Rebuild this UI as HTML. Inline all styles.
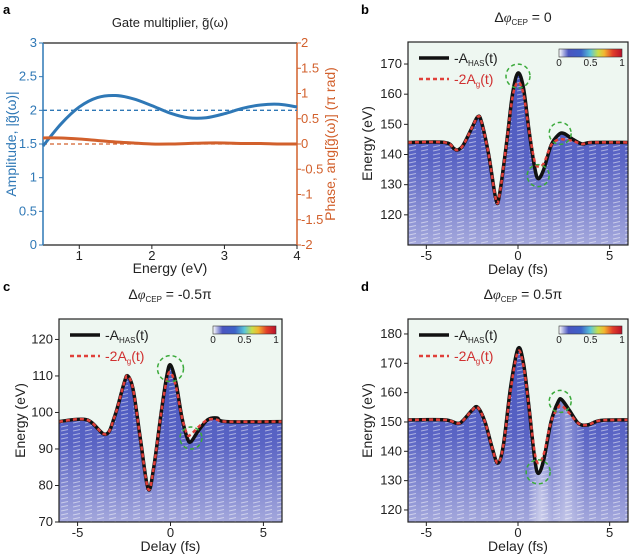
<!DOCTYPE html>
<html><head><meta charset="utf-8"><style>
body{margin:0;background:#fff;}
svg{display:block;font-family:"Liberation Sans",sans-serif;}
</style></head><body>
<svg id="fig" width="632" height="560" viewBox="0 0 632 560" xmlns="http://www.w3.org/2000/svg">
<defs>
<linearGradient id="specgrad" x1="0" y1="0" x2="0" y2="1">
<stop offset="0" stop-color="#4353be"/><stop offset="0.5" stop-color="#5a64c4"/><stop offset="1" stop-color="#a4a8dc"/>
</linearGradient>
<linearGradient id="specgradD" x1="0" y1="0" x2="1" y2="0">
<stop offset="0" stop-color="#ffffff" stop-opacity="0"/><stop offset="0.55" stop-color="#ffffff" stop-opacity="0"/><stop offset="0.6" stop-color="#ffffff" stop-opacity="0.45"/><stop offset="0.66" stop-color="#ffffff" stop-opacity="0.1"/><stop offset="0.72" stop-color="#ffffff" stop-opacity="0.35"/><stop offset="0.8" stop-color="#ffffff" stop-opacity="0"/>
</linearGradient>
<pattern id="streaks" width="12" height="4" patternUnits="userSpaceOnUse">
<line x1="1" y1="3" x2="8" y2="1.5" stroke="#ffffff" stroke-opacity="0.5" stroke-width="1"/>
</pattern>
<linearGradient id="cbar" x1="0" x2="1">
<stop offset="0" stop-color="#ffffff"/><stop offset="0.15" stop-color="#4a55c0"/><stop offset="0.35" stop-color="#3c62c8"/><stop offset="0.5" stop-color="#5bc6d8"/><stop offset="0.62" stop-color="#c8e04a"/><stop offset="0.72" stop-color="#f3b530"/><stop offset="0.85" stop-color="#e2402a"/><stop offset="1" stop-color="#b8102a"/>
</linearGradient>
</defs>
</svg>
<script>
// ---------- Panel a data ----------
const aEnergy = [0.5,0.75,1,1.25,1.5,1.75,2,2.25,2.5,2.75,3,3.25,3.5,3.75,4];
const aAmplitude = [1.47,1.8,2.05,2.19,2.22,2.17,2.07,1.96,1.89,1.89,1.95,2.03,2.08,2.09,2.05];
const aPhase = [0.12,0.12,0.1,0.07,0.04,0.02,0.0,0.0,0.01,0.02,0.02,0.01,0.01,0.0,0.0];
const aLeftTicks = [0,0.5,1,1.5,2,2.5,3];
const aRightTicks = [-2,-1.5,-1,-0.5,0,0.5,1,1.5,2];
const aXTicks = [1,2,3,4];

// ---------- Panels b,c,d data ----------
const delayTicks = [-5,0,5];
const bDelay = [-6,-4,-3.5,-3.3,-3,-2.5,-2.2,-2,-1.6,-1.2,-1,-0.6,-0.3,0,0.3,0.6,0.9,1.1,1.4,1.8,2.2,2.5,3,3.5,4,6];
const bHAS =   [144,144,142,141.5,143,149,152.5,151,140,125,127,145,160,167,162,148,136,132,135,143,146.5,147,145,143.5,144,144];
const bGate =  [144,144,142,141.5,143,149,152.5,151,140,125,127,145,159,164,160,148,138,136,137,143,145,145,144.5,143.5,144,144];
const bTicks = [120,130,140,150,160,170];
const cDelay = [-6,-4.5,-3.5,-3,-2.5,-2.3,-2,-1.6,-1.2,-0.9,-0.5,-0.2,0,0.3,0.6,0.9,1.1,1.5,2,2.5,3,6];
const cHAS =   [97.5,98,94,99,108,110,106,92,79,85,100,110,113,108,99,93,92,95,98,98.5,97.5,97.5];
const cGate =  [97.5,98,94,99,108,110,106,92,79,85,100,109,111,107,99,94,94,96,98,98,97.5,97.5];
const cTicks = [70,80,90,100,110,120];
const dDelay = [-6,-4,-3.3,-3,-2.5,-2.2,-1.8,-1.4,-1.1,-0.8,-0.4,0,0.3,0.6,0.9,1.1,1.4,1.8,2.2,2.4,2.8,3.3,3.8,4.5,6];
const dHAS =   [150.7,150.7,149.5,150.5,154,155,150,141,136,142,162,175,170,155,138,132.5,137,150,157,157.5,154,149.5,149,150.5,150.7];
const dGate =  [150.7,150.7,149.5,150.5,154,155,150,141,136,142,161,174,169,155,140,136,139,150,155,155.5,153,149.5,149,150.5,150.7];
const dTicks = [120,130,140,150,160,170,180];

const NS = "http://www.w3.org/2000/svg";
const svg = document.getElementById('fig');
function mk(tag, attrs, parent){const e=document.createElementNS(NS,tag);for(const k in attrs)e.setAttribute(k,attrs[k]);(parent||svg).appendChild(e);return e;}
function txt(s, attrs, parent){const e=mk('text',attrs,parent);e.textContent=s;return e;}
function smooth(pts){
  let d='M'+pts[0][0].toFixed(2)+','+pts[0][1].toFixed(2);
  for(let i=0;i<pts.length-1;i++){
    const p0=pts[Math.max(0,i-1)],p1=pts[i],p2=pts[i+1],p3=pts[Math.min(pts.length-1,i+2)];
    const c1=[p1[0]+(p2[0]-p0[0])/6,p1[1]+(p2[1]-p0[1])/6];
    const c2=[p2[0]-(p3[0]-p1[0])/6,p2[1]-(p3[1]-p1[1])/6];
    d+=' C'+c1[0].toFixed(2)+','+c1[1].toFixed(2)+' '+c2[0].toFixed(2)+','+c2[1].toFixed(2)+' '+p2[0].toFixed(2)+','+p2[1].toFixed(2);
  }
  return d;
}

// ---------- Panel a ----------
(function(){
  const L=43,R=297,T=43,B=245;
  const xS=v=>L+(v-0.5)/3.5*(R-L);
  const yL=v=>B-v/3*(B-T);
  const yR=v=>B-(v+2)/4*(B-T);
  const blue='#2f78b6', orange='#d2602c';
  const g=mk('g',{});
  
  
  const lt=txt('a',{x:3,y:14,'font-size':13,'font-weight':'bold'},g);
  
  const ti=txt('Gate multiplier, g̃(ω)',{x:170,y:27,'font-size':13,'text-anchor':'middle',fill:'#222'},g);
  
  mk('line',{x1:L,y1:T,x2:R,y2:T,stroke:'#222','stroke-width':1.2},g);
  mk('line',{x1:L,y1:B,x2:R,y2:B,stroke:'#222','stroke-width':1.2},g);
  mk('line',{x1:L,y1:T,x2:L,y2:B,stroke:blue,'stroke-width':1.5},g);
  mk('line',{x1:R,y1:T,x2:R,y2:B,stroke:orange,'stroke-width':1.5},g);
  aLeftTicks.forEach(v=>{const y=yL(v);mk('line',{x1:L-4,y1:y,x2:L,y2:y,stroke:blue},g);
    const t=txt(String(v),{x:L-6,y:y+4,'font-size':13,'text-anchor':'end',fill:blue},g);
    });
  aRightTicks.forEach(v=>{const y=yR(v);mk('line',{x1:R,y1:y,x2:R+4,y2:y,stroke:orange},g);
    const t=txt(String(v),{x:R+4,y:y+4,'font-size':13,fill:orange},g);
    });
  aXTicks.forEach(v=>{const x=xS(v);mk('line',{x1:x,y1:B,x2:x,y2:B+4,stroke:'#222'},g);
    const t=txt(String(v),{x:x,y:B+15,'font-size':13,'text-anchor':'middle',fill:'#222'},g);
    });
  const xl=txt('Energy (eV)',{x:170,y:273,'font-size':14,'text-anchor':'middle',fill:'#222'},g);
  
  const yl=txt('Amplitude, |g̃(ω)|',{x:0,y:0,'font-size':14,'text-anchor':'middle',fill:blue,transform:'translate(16,144) rotate(-90)'},g);
  
  const yr=txt('Phase, ang[g̃(ω)] (π rad)',{x:0,y:0,'font-size':14,'text-anchor':'middle',fill:orange,transform:'translate(335,144) rotate(-90)'},g);
  
  const d1=mk('line',{x1:L,y1:yL(2),x2:R,y2:yL(2),stroke:blue,'stroke-width':1.3,'stroke-dasharray':'4,3'},g);
  
  const d2=mk('line',{x1:L,y1:yR(0),x2:R,y2:yR(0),stroke:orange,'stroke-width':1.3,'stroke-dasharray':'4,3'},g);
  
  const pa=mk('path',{d:smooth(aEnergy.map((e,i)=>[xS(e),yL(aAmplitude[i])])),fill:'none',stroke:blue,'stroke-width':3},g);
  
  const pp=mk('path',{d:smooth(aEnergy.map((e,i)=>[xS(e),yR(aPhase[i])])),fill:'none',stroke:orange,'stroke-width':3},g);
  
})();

// ---------- Spectrogram panels ----------
function spectro(cfg){
  const {id,L,R,T,B,ymin,ymax,delay,has,gate,ticks,letter,lx,title,tx,circles,ylx,band}=cfg;
  const xS=v=>L+(v+6)/12*(R-L);
  const yS=v=>B-(v-ymin)/(ymax-ymin)*(B-T);
  const g=mk('g',{});
  
  
  const lt=txt(letter,{x:lx,y:T-28,'font-size':13,'font-weight':'bold'},g);
  
  const tt=mk('text',{x:tx,y:T-20,'font-size':14,'text-anchor':'middle',fill:'#222'},g);
  tt.innerHTML='Δ<tspan font-family="Liberation Serif" font-style="italic">φ</tspan><tspan font-size="8" dy="3">CEP</tspan><tspan dy="-3"> = '+title+'</tspan>';
  
  const cid='clip-'+id;
  const cp=mk('clipPath',{id:cid},g);
  mk('rect',{x:L,y:T,width:R-L,height:B-T},cp);
  const bg=mk('rect',{x:L,y:T,width:R-L,height:B-T,fill:'#eef7f1'},g);
  
  const pts=delay.map((t,i)=>[xS(t),yS(has[i])]);
  const area=smooth(pts)+' L'+R+','+B+' L'+L+','+B+' Z';
  const sg=mk('g',{'clip-path':'url(#'+cid+')'},g);
  const sp=mk('path',{d:area,fill:'url(#specgrad)'},sg);
  
  mk('path',{d:area,fill:'url(#streaks)'},sg);
  if(band) mk('path',{d:area,fill:'url(#specgradD)'},sg);
  const hl=mk('path',{d:smooth(pts),fill:'none',stroke:'#111','stroke-width':3.5},sg);
  
  const gl=mk('path',{d:smooth(delay.map((t,i)=>[xS(t),yS(gate[i])])),fill:'none',stroke:'#e0403a','stroke-width':2.5,'stroke-dasharray':'4,3'},sg);
  
  circles.forEach(c=>{const ci=mk('circle',{cx:xS(c[0]),cy:yS(c[1]),r:c[2],fill:'none',stroke:'#3aaa3a','stroke-width':1.5,'stroke-dasharray':'4,3'},sg);
    });
  mk('rect',{x:L,y:T,width:R-L,height:B-T,fill:'none',stroke:'#222','stroke-width':1.2},g);
  ticks.forEach(v=>{const y=yS(v);mk('line',{x1:L-4,y1:y,x2:L,y2:y,stroke:'#222'},g);
    const t=txt(String(v),{x:L-6,y:y+4,'font-size':13,'text-anchor':'end',fill:'#222'},g);
    });
  delayTicks.forEach(v=>{const x=xS(v);mk('line',{x1:x,y1:B,x2:x,y2:B+4,stroke:'#222'},g);
    const t=txt(String(v),{x:x,y:B+15,'font-size':13,'text-anchor':'middle',fill:'#222'},g);
    });
  const xl=txt('Delay (fs)',{x:(L+R)/2,y:B+29,'font-size':14,'text-anchor':'middle',fill:'#222'},g);
  
  const yl=txt('Energy (eV)',{x:0,y:0,'font-size':14,'text-anchor':'middle',fill:'#222',transform:'translate('+ylx+','+((T+B)/2)+') rotate(-90)'},g);
  
  // legend
  const lg=mk('g',{},g);
  
  mk('line',{x1:L+11,y1:T+16,x2:L+41,y2:T+16,stroke:'#111','stroke-width':3.5},lg);
  const l1=mk('text',{x:L+46,y:T+21,'font-size':14,fill:'#222'},lg);
  l1.innerHTML='-A<tspan font-size="8" dy="3">HAS</tspan><tspan dy="-3">(t)</tspan>';
  
  mk('line',{x1:L+11,y1:T+37,x2:L+41,y2:T+37,stroke:'#e0403a','stroke-width':2.5,'stroke-dasharray':'4,3'},lg);
  const l2=mk('text',{x:L+46,y:T+42,'font-size':14,fill:'#d03030'},lg);
  l2.innerHTML='-2A<tspan font-size="8" dy="3">g</tspan><tspan dy="-3">(t)</tspan>';
  
  // colorbar
  const cx=R-69, cy=T+7;
  const cb=mk('rect',{x:cx,y:cy,width:63,height:8,fill:'url(#cbar)',stroke:'#333','stroke-width':0.6},g);
  
  [['0',0],['0.5',0.5],['1',1]].forEach(p=>{const t=txt(p[0],{x:cx+p[1]*63,y:cy+17,'font-size':10,'text-anchor':'middle',fill:'#222'},g);
    });
}
spectro({id:'b',L:408,R:628,T:42,B:245,ymin:110,ymax:177.3,delay:bDelay,has:bHAS,gate:bGate,ticks:bTicks,letter:'b',lx:361,title:'0',tx:523,ylx:372,
  circles:[[0,166,12],[2.3,147,11],[1.1,133,11]]});
spectro({id:'c',L:59,R:282,T:319,B:522,ymin:70,ymax:125.6,delay:cDelay,has:cHAS,gate:cGate,ticks:cTicks,letter:'c',lx:3,title:'-0.5π',tx:170,ylx:25,
  circles:[[0,112,13],[1.1,93,11]]});
spectro({id:'d',L:408,R:628,T:319,B:522,ymin:115.9,ymax:185.1,delay:dDelay,has:dHAS,gate:dGate,ticks:dTicks,letter:'d',lx:361,title:'0.5π',tx:523,ylx:372,band:true,
  circles:[[2.3,157,11],[1.1,133,12]]});
</script>
</body></html>
